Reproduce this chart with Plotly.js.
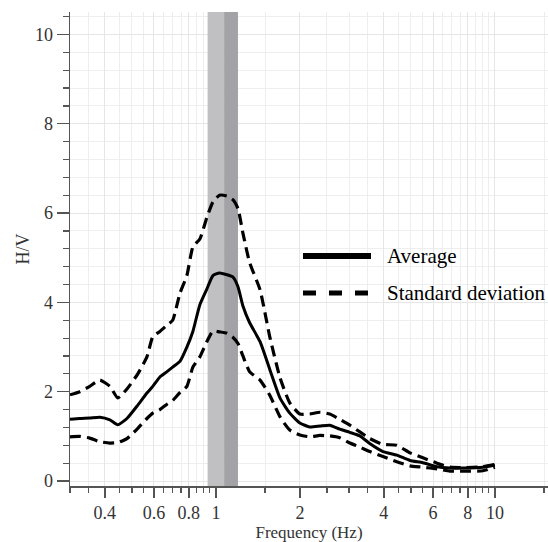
<!DOCTYPE html>
<html>
<head>
<meta charset="utf-8">
<script src="https://cdn.plot.ly/plotly-3.0.1.min.js"></script>
<style>html,body{margin:0;padding:0;background:#fff;}#chart{width:548px;height:542px;}</style>
</head>
<body>
<div id="chart"></div>
<script>
// Frequency samples (Hz)
const freq = [0.30,0.325,0.353,0.384,0.417,0.445,0.48,0.525,0.566,0.594,0.63,0.668,0.70,0.743,0.787,0.827,0.876,0.928,0.976,1.03,1.095,1.15,1.20,1.25,1.32,1.44,1.56,1.70,1.84,2.0,2.17,2.36,2.56,2.78,3.02,3.28,3.56,3.97,4.45,4.96,5.52,6.2,6.9,7.68,9.06,10.0];
// Average H/V
const avgHV = [1.38,1.40,1.41,1.43,1.37,1.26,1.40,1.70,1.97,2.12,2.33,2.45,2.55,2.68,3.00,3.35,3.95,4.30,4.60,4.66,4.62,4.57,4.35,3.92,3.55,3.12,2.50,1.85,1.52,1.30,1.21,1.23,1.25,1.16,1.09,1.01,0.84,0.66,0.58,0.46,0.41,0.32,0.29,0.29,0.31,0.36];
// Average + standard deviation
const stdUpper = [1.93,2.00,2.12,2.26,2.12,1.86,2.06,2.40,2.78,3.23,3.35,3.49,3.60,4.20,4.60,5.24,5.42,5.90,6.25,6.40,6.38,6.30,6.10,5.55,4.90,4.28,3.23,2.30,1.75,1.50,1.50,1.54,1.50,1.38,1.25,1.10,0.95,0.82,0.80,0.63,0.52,0.40,0.31,0.30,0.32,0.37];
// Average - standard deviation
const stdLower = [0.99,1.00,0.96,0.88,0.85,0.86,0.95,1.18,1.40,1.52,1.60,1.72,1.80,1.98,2.12,2.55,2.78,3.12,3.36,3.34,3.31,3.22,3.08,2.80,2.45,2.26,1.92,1.43,1.14,1.03,0.99,1.02,1.01,0.97,0.85,0.76,0.66,0.55,0.43,0.34,0.31,0.27,0.22,0.22,0.23,0.31];

const xMajorTicks = [0.4,0.6,0.8,1,2,4,6,8,10];
const xMajorLabels = ['0.4','0.6','0.8','1','2','4','6','8','10'];
const xMinorTicks = [0.3,0.35,0.45,0.5,0.55,0.65,0.7,0.75,0.85,0.9,0.95,1.5,2.5,3,3.5,4.5,5,5.5,6.5,7,7.5,8.5,9,9.5,15];
const yMajorTicks = [0,2,4,6,8,10];
const yRange = [-0.112, 10.504];
const xRange = [0.3, 15.5];

// Peak-frequency band (Hz)
const bandLight = [0.934, 1.07];
const bandDark = [1.07, 1.20];

const legendLabels = ['Average','Standard deviation'];
const axisTitles = {x: 'Frequency (Hz)', y: 'H/V'};

const serif = "'Liberation Serif', 'Times New Roman', Times, serif";

function bandTrace(b, color) {
  return {x: [b[0], b[1], b[1], b[0], b[0]], y: [yRange[0], yRange[0], yRange[1], yRange[1], yRange[0]],
          mode: 'lines', fill: 'toself', fillcolor: color, line: {width: 0, color: color},
          hoverinfo: 'skip', showlegend: false};
}

const traces = [
  bandTrace(bandLight, '#c0c0c2'),
  bandTrace(bandDark, '#a3a3a7'),
  {x: freq, y: stdUpper, name: legendLabels[1], mode: 'lines', showlegend: false,
   line: {color: '#000', width: 3.2, dash: '11px,6px', shape: 'spline', smoothing: 0.5}},
  {x: freq, y: stdLower, name: legendLabels[1], mode: 'lines', showlegend: false,
   line: {color: '#000', width: 3.2, dash: '11px,6px', shape: 'spline', smoothing: 0.5}},
  {x: freq, y: avgHV, name: legendLabels[0], mode: 'lines', showlegend: false,
   line: {color: '#000', width: 3, shape: 'spline', smoothing: 0.5}}
];

const layout = {
  width: 548, height: 542,
  margin: {l: 70, r: 0, t: 12, b: 56},
  paper_bgcolor: '#fff', plot_bgcolor: '#fff',
  font: {family: serif, color: '#333', size: 18},
  showlegend: false,
  xaxis: {
    type: 'log',
    range: [Math.log10(xRange[0]), Math.log10(xRange[1])],
    tickmode: 'array', tickvals: xMajorTicks, ticktext: xMajorLabels,
    ticks: 'outside', ticklen: 10, tickwidth: 1.3, tickcolor: '#555',
    showline: true, linecolor: '#555', linewidth: 1.5,
    showgrid: true, gridcolor: '#e6e6e6', gridwidth: 1,
    zeroline: false,
    tickfont: {family: serif, size: 18, color: '#333'},
    minor: {tickmode: 'array', tickvals: xMinorTicks, ticks: 'outside', ticklen: 5,
            tickwidth: 1.2, tickcolor: '#555', showgrid: true, gridcolor: '#eeeeee', gridwidth: 1},
    title: {text: axisTitles.x, font: {family: serif, size: 17, color: '#333'}, standoff: 10}
  },
  yaxis: {
    range: yRange,
    tickmode: 'array', tickvals: yMajorTicks,
    ticks: 'outside', ticklen: 12, tickwidth: 1.3, tickcolor: '#555',
    showline: true, linecolor: '#555', linewidth: 1.5,
    showgrid: true, gridcolor: '#e6e6e6', gridwidth: 1,
    zeroline: false,
    tickfont: {family: serif, size: 18, color: '#333'},
    minor: {tickmode: 'linear', tick0: 0, dtick: 0.4, ticks: 'outside', ticklen: 6,
            tickwidth: 1.2, tickcolor: '#555', showgrid: true, gridcolor: '#eeeeee', gridwidth: 1},
    title: {text: axisTitles.y, font: {family: serif, size: 18, color: '#333'}, standoff: 0}
  },
  shapes: [
    {type: 'line', xref: 'paper', yref: 'paper', x0: 0.4874, x1: 0.6297, y0: 0.4852, y1: 0.4852,
     line: {color: '#000', width: 6}},
    {type: 'line', xref: 'paper', yref: 'paper', x0: 0.4874, x1: 0.6297, y0: 0.4072, y1: 0.4072,
     line: {color: '#000', width: 5, dash: '13px,13px'}}
  ],
  annotations: [
    {xref: 'paper', yref: 'paper', x: 0.659, y: 0.4852, xanchor: 'left', yanchor: 'middle',
     text: legendLabels[0], showarrow: false, font: {family: serif, size: 21, color: '#000'}},
    {xref: 'paper', yref: 'paper', x: 0.659, y: 0.4072, xanchor: 'left', yanchor: 'middle',
     text: legendLabels[1], showarrow: false, font: {family: serif, size: 21, color: '#000'}}
  ]
};

Plotly.newPlot('chart', traces, layout, {displayModeBar: false, staticPlot: true});
</script>
</body>
</html>
